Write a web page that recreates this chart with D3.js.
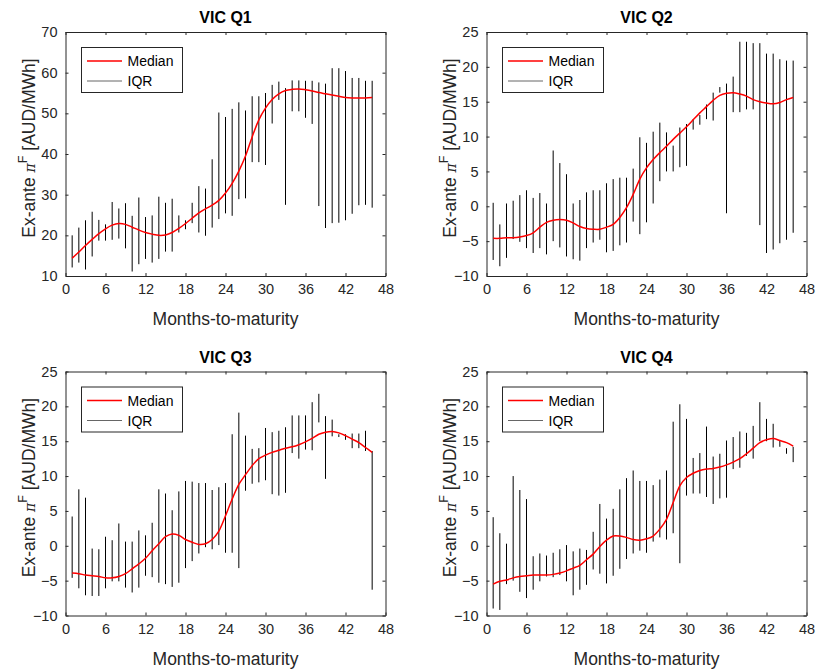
<!DOCTYPE html>
<html>
<head>
<meta charset="utf-8">
<script src="https://cdn.jsdelivr.net/npm/d3@7"></script>
<style>
  body { margin: 0; background: #fff; }
  text { font-family: "Liberation Sans", Arial, sans-serif; fill: #262626; }
</style>
</head>
<body>
<script>
// months-to-maturity 1..46
const months = d3.range(1, 47);

const q1Hi = [20.0,21.9,23.7,25.8,23.8,22.7,28.2,26.6,27.9,24.8,29.3,24.5,24.9,29.5,28.0,29.0,24.9,23.7,28.0,32.1,31.5,38.7,50.2,49.1,51.1,52.7,50.7,54.2,54.2,55.0,57.0,57.8,56.2,58.1,58.1,58.0,58.0,57.6,57.3,61.1,61.1,60.4,58.7,58.7,58.0,58.0];
const q1Lo = [12.1,13.3,11.6,14.8,18.7,18.7,18.9,19.2,16.8,11.1,12.9,14.2,13.3,14.2,16.0,16.0,20.7,21.5,23.0,20.7,19.9,21.9,24.0,25.4,24.8,28.9,29.1,38.0,38.0,37.3,47.5,53.3,27.5,50.5,50.5,48.9,47.4,27.2,21.8,23.0,23.1,23.7,25.3,27.4,27.5,26.8];
const q1Med = [14.4,15.9,17.5,19.0,20.4,21.6,22.5,22.9,22.7,22.0,21.3,20.7,20.3,20.0,20.1,20.7,21.7,22.9,24.2,25.5,26.5,27.4,28.6,30.4,32.8,35.8,39.5,44.2,48.4,51.3,53.4,54.8,55.6,55.9,56.0,55.8,55.5,55.1,54.8,54.5,54.2,53.9,53.8,53.8,53.8,53.9];

const q2Hi = [0.5,-2.6,0.4,0.8,1.6,2.3,1.2,1.9,0.4,8.0,6.2,4.6,0.4,0.9,2.0,2.3,2.3,3.3,3.9,4.1,4.1,5.4,9.9,9.1,10.7,12.0,10.6,8.7,11.3,11.8,12.5,13.1,14.6,16.3,17.1,17.6,18.6,23.6,23.6,23.4,23.4,21.9,21.9,21.1,20.9,20.9];
const q2Lo = [-7.7,-8.6,-7.4,-4.7,-5.1,-6.0,-6.7,-6.0,-6.9,-5.0,-5.9,-7.2,-7.6,-7.8,-6.0,-5.2,-4.8,-6.6,-6.4,-5.6,-5.2,-2.2,-4.0,-2.3,0.4,3.6,5.0,5.0,5.6,5.8,11.0,11.7,12.5,12.3,16.3,-1.0,13.5,13.5,13.9,13.9,-2.7,-6.7,-6.2,-5.3,-4.8,-3.8];
const q2Med = [-4.6,-4.6,-4.5,-4.5,-4.4,-4.2,-3.8,-3.0,-2.3,-2.0,-1.9,-2.0,-2.4,-2.9,-3.2,-3.3,-3.3,-3.0,-2.6,-1.6,-0.2,1.7,3.9,5.5,6.7,7.7,8.6,9.6,10.5,11.4,12.4,13.4,14.3,15.2,15.9,16.2,16.3,16.1,15.8,15.3,15.0,14.8,14.7,14.9,15.3,15.6];

const q3Hi = [4.2,8.1,6.9,-0.4,-0.5,1.3,0.8,3.2,0.6,0.6,2.2,1.5,3.3,8.1,7.5,5.1,7.8,9.3,9.2,9.0,9.0,8.0,8.4,9.0,16.0,19.1,15.8,13.9,14.0,16.9,16.3,16.5,17.0,18.7,18.7,18.7,20.6,21.8,18.6,18.1,16.0,16.0,16.1,16.1,16.5,13.6];
const q3Lo = [-4.6,-6.1,-7.1,-7.2,-7.2,-6.1,-5.1,-5.1,-6.0,-6.7,-6.0,-4.3,-4.5,-5.3,-5.5,-5.9,-5.3,-3.2,-2.2,-1.1,-0.2,-0.5,0.1,-1.0,-1.0,-3.2,7.9,8.9,9.1,9.4,7.4,7.2,7.6,13.3,12.5,13.8,13.7,17.7,9.6,15.7,15.6,15.2,14.0,14.0,13.6,-6.3];
const q3Med = [-3.9,-4.0,-4.2,-4.3,-4.4,-4.6,-4.6,-4.4,-4.0,-3.3,-2.6,-1.8,-0.7,0.3,1.3,1.7,1.5,0.9,0.5,0.2,0.3,0.9,2.1,4.3,6.7,8.8,10.2,11.5,12.5,13.0,13.4,13.7,14.0,14.2,14.5,14.9,15.4,16.0,16.3,16.4,16.2,15.8,15.3,14.8,14.1,13.4];

const q4Hi = [4.1,1.8,0.3,10.0,8.0,6.7,-1.5,-1.1,-1.4,-1.0,-0.5,0.1,-0.8,-0.4,-0.6,2.0,6.0,3.9,5.3,8.1,9.7,10.8,9.3,9.3,8.7,9.5,10.8,17.8,20.3,18.2,12.6,13.3,17.1,12.8,13.2,15.1,15.6,16.4,16.2,17.2,20.6,18.2,17.5,15.1,14.0,14.2];
const q4Lo = [-9.0,-9.2,-5.5,-5.0,-6.6,-7.5,-6.3,-5.1,-4.4,-4.5,-4.2,-5.1,-7.1,-6.3,-5.6,-3.4,-4.0,-5.4,-4.3,-3.3,-1.9,-1.1,-0.7,-1.0,0.6,1.2,0.9,1.8,-2.5,7.2,7.5,7.5,7.0,6.0,6.8,6.9,11.0,11.2,12.9,12.5,15.0,15.0,14.1,14.2,13.2,12.0];
const q4Med = [-5.5,-5.1,-4.9,-4.6,-4.4,-4.3,-4.2,-4.2,-4.2,-4.1,-3.9,-3.6,-3.2,-2.8,-2.0,-1.2,-0.1,0.8,1.4,1.4,1.2,0.9,0.8,1.0,1.4,2.4,3.8,6.2,8.6,9.8,10.4,10.8,11.0,11.1,11.3,11.6,12.0,12.5,13.2,14.0,14.8,15.2,15.4,15.1,14.8,14.3];

const xTicks = [0, 6, 12, 18, 24, 30, 36, 42, 48];
const yTicksQ1 = [10, 20, 30, 40, 50, 60, 70];
const yTicksOther = [-10, -5, 0, 5, 10, 15, 20, 25];

const panels = [
  {title: "VIC Q1", hi: q1Hi, lo: q1Lo, med: q1Med, yDom: [10, 70], yTicks: yTicksQ1, left: 65.5, top: 32},
  {title: "VIC Q2", hi: q2Hi, lo: q2Lo, med: q2Med, yDom: [-10, 25], yTicks: yTicksOther, left: 486.5, top: 32},
  {title: "VIC Q3", hi: q3Hi, lo: q3Lo, med: q3Med, yDom: [-10, 25], yTicks: yTicksOther, left: 65.5, top: 371.5},
  {title: "VIC Q4", hi: q4Hi, lo: q4Lo, med: q4Med, yDom: [-10, 25], yTicks: yTicksOther, left: 486.5, top: 371.5}
];

const W = 818, H = 672;
const pw = 320, ph = 244;
const axisCol = "#262626";

const svg = d3.select("body").append("svg")
  .attr("width", W)
  .attr("height", H);

panels.forEach(p => {
  const g = svg.append("g").attr("transform", `translate(${p.left},${p.top})`);

  const x = d3.scaleLinear().domain([0, 48]).range([0, pw]);
  const y = d3.scaleLinear().domain(p.yDom).range([ph, 0]);

  // IQR bars
  g.selectAll("line.iqr")
    .data(months)
    .enter()
    .append("line")
    .attr("class", "iqr")
    .attr("x1", (d) => x(d))
    .attr("x2", (d) => x(d))
    .attr("y1", (d, i) => y(p.lo[i]))
    .attr("y2", (d, i) => y(p.hi[i]))
    .attr("stroke", "#000")
    .attr("stroke-width", 1);

  // median
  const line = d3.line()
    .x((d, i) => x(months[i]))
    .y((d) => y(d))
    .curve(d3.curveCatmullRom);

  g.append("path")
    .datum(p.med)
    .attr("d", line)
    .attr("fill", "none")
    .attr("stroke", "#ff0000")
    .attr("stroke-width", 1.5);

  // axes, ticks inward on all sides
  const ax = [
    [d3.axisBottom(x).tickValues(xTicks).tickSizeInner(-3).tickSizeOuter(0).tickPadding(8), `translate(0,${ph})`, true],
    [d3.axisTop(x).tickValues(xTicks).tickSizeInner(-3).tickSizeOuter(0).tickFormat(""), "translate(0,0)", false],
    [d3.axisLeft(y).tickValues(p.yTicks).tickSizeInner(-3).tickSizeOuter(0).tickPadding(8), "translate(0,0)", true],
    [d3.axisRight(y).tickValues(p.yTicks).tickSizeInner(-3).tickSizeOuter(0).tickFormat(""), `translate(${pw},0)`, false]
  ];
  ax.forEach(([a, tr]) => {
    const ag = g.append("g").attr("transform", tr).call(a);
    ag.select(".domain").attr("stroke", axisCol);
    ag.selectAll(".tick line").attr("stroke", axisCol);
    ag.selectAll(".tick text")
      .attr("fill", axisCol)
      .style("font-size", "14.5px")
      .style("font-family", '"Liberation Sans", Arial, sans-serif');
  });

  // title
  g.append("text")
    .attr("x", pw / 2)
    .attr("y", -9)
    .attr("text-anchor", "middle")
    .style("font-size", "16px")
    .style("font-weight", "bold")
    .style("fill", "#000")
    .text(p.title);

  // x label
  g.append("text")
    .attr("x", pw / 2)
    .attr("y", ph + 49)
    .attr("text-anchor", "middle")
    .style("font-size", "17.5px")
    .text("Months-to-maturity");

  // y label
  const yl = g.append("text")
    .attr("transform", `translate(-31,${ph / 2 - 6}) rotate(-90)`)
    .attr("text-anchor", "middle")
    .style("font-size", "17.5px");
  yl.append("tspan").text("Ex-ante ");
  yl.append("tspan").style("font-style", "italic").style("font-family", "'DejaVu Serif', serif").style("font-size", "14px").text("π");
  yl.append("tspan").attr("dy", -8).style("font-size", "12.5px").text("F");
  yl.append("tspan").attr("dy", 8).text(" [AUD/MWh]");

  // legend
  const lg = g.append("g").attr("transform", "translate(16,15.5)");
  lg.append("rect")
    .attr("width", 101).attr("height", 45)
    .attr("fill", "#fff")
    .attr("stroke", axisCol)
    .attr("stroke-width", 1);
  const items = [["Median", "#ff0000", 1.5], ["IQR", "#000", 1]];
  items.forEach(([name, col, sw], i) => {
    const yy = 13.5 + i * 20;
    lg.append("line")
      .attr("x1", 5.5).attr("x2", 40.5)
      .attr("y1", yy).attr("y2", yy)
      .attr("stroke", col)
      .attr("stroke-width", sw)
      .attr("stroke-opacity", i === 1 ? 0.6 : 1);
    lg.append("text")
      .attr("x", 46)
      .attr("y", yy + 5)
      .style("font-size", "14px")
      .style("fill", "#000")
      .text(name);
  });
});
</script>
</body>
</html>
